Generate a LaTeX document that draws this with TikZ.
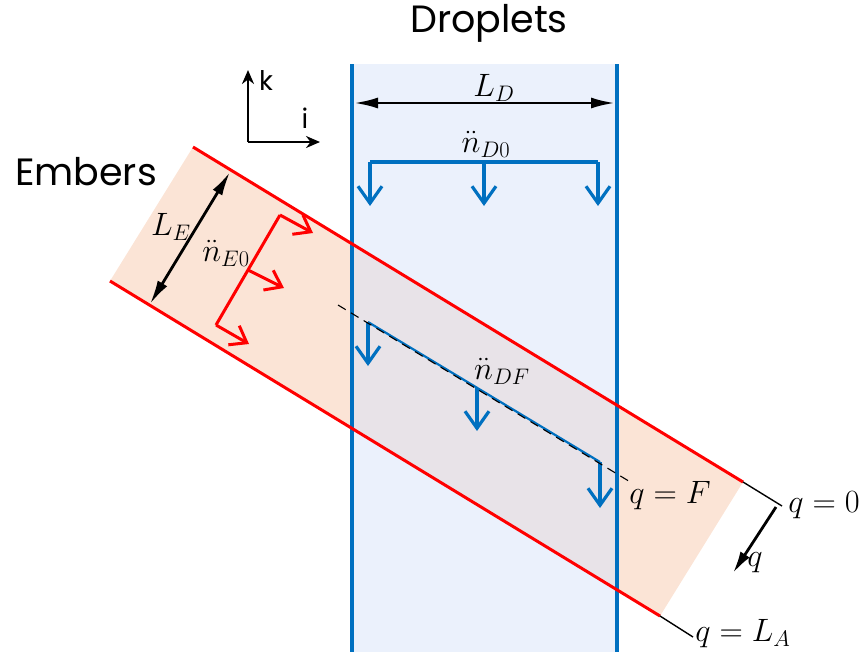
\documentclass[tikz,border=0pt]{standalone}
\usepackage{fontspec}
\setmainfont{Poppins}
\usetikzlibrary{arrows.meta}
\definecolor{redc}{HTML}{FF0000}
\definecolor{bluec}{HTML}{0070C0}
\definecolor{peach}{HTML}{FBE4D6}
\definecolor{lblue}{HTML}{EBF1FC}
\definecolor{overlapc}{HTML}{E8E3E8}
\begin{document}
\begin{tikzpicture}[x=1pt,y=-1pt,
  bigtxt/.style={font=\fontsize{38}{44}\selectfont, inner sep=0pt},
  axtxt/.style={font=\fontsize{27}{32}\selectfont, inner sep=0pt},
  mtxt/.style={font=\fontsize{24}{28}\selectfont, inner sep=0pt, scale=1.3},
  blueline/.style={draw=bluec, line width=3.2pt},
  redline/.style={draw=redc, line width=3pt},
  vbarbblue/.style={blueline, -{Straight Barb[length=17pt,width=24pt]}},
  vbarbred/.style={redline, -{Straight Barb[length=15pt,width=22pt]}},
  dimarrow/.style={draw=black, line width=2.8pt, {Latex[length=24pt,width=11pt]}-{Latex[length=24pt,width=11pt]}},
  axarrow/.style={draw=black, line width=2.8pt, -{Stealth[length=14pt,width=12pt]}},
  thinline/.style={draw=black, line width=1.4pt}
]
\useasboundingbox (0,0) rectangle (861,654);
% geometry
\coordinate (DTL) at (352,64);
\coordinate (DBL) at (352,652);
\coordinate (DTR) at (617,64);
\coordinate (DBR) at (617,652);
\coordinate (EA) at (193,147);
\coordinate (EB) at (743,482);
\coordinate (EC) at (660,616);
\coordinate (ED) at (110,281);
% fills
\fill[lblue] (DTL) rectangle (DBR);
\fill[peach] (EA) -- (EB) -- (EC) -- (ED) -- cycle;
\begin{scope}
  \clip (EA) -- (EB) -- (EC) -- (ED) -- cycle;
  \fill[overlapc] (DTL) rectangle (DBR);
\end{scope}
% droplet band edges
\draw[blueline] (DTL) -- (DBL);
\draw[blueline] (DTR) -- (DBR);
% ember band edges
\draw[redline] (EA) -- (EB);
\draw[redline] (ED) -- (EC);
\coordinate (Q0) at (782,506);
\coordinate (QLA) at (693,637);
\draw[thinline] (EB) -- (Q0);
\draw[thinline] (EC) -- (QLA);
% titles
\node[bigtxt] (tdrop) at (489,23) {Droplets};
\node[bigtxt] (tember) at (86,172) {Embers};
% axes
\coordinate (O) at (248,142);
\coordinate (Kt) at (248,70);
\coordinate (It) at (320,142);
\draw[axarrow] (O) -- (Kt);
\draw[axarrow] (O) -- (It);
\node[axtxt] (lk) at (266,81) {k};
\node[axtxt] (li) at (305,118) {i};
% L_D
\coordinate (LDl) at (354,103);
\coordinate (LDr) at (615,103);
\draw[dimarrow] (LDl) -- (LDr);
\node[mtxt] (lLD) at (494,88) {$L_D$};
% n_D0 bracket
\coordinate (D0a) at (370,162);
\coordinate (D0b) at (484,162);
\coordinate (D0c) at (598,162);
\coordinate (D0at) at (370,206);
\coordinate (D0bt) at (484,206);
\coordinate (D0ct) at (598,206);
\draw[blueline] (D0a) -- (D0c);
\draw[vbarbblue] (D0a) -- (D0at);
\draw[vbarbblue] (D0b) -- (D0bt);
\draw[vbarbblue] (D0c) -- (D0ct);
\node[mtxt] (lnD0) at (486,144) {$\ddot{n}_{D0}$};
% n_DF line
\coordinate (F1) at (368,322);
\coordinate (F2) at (477,388);
\coordinate (F3) at (600,462);
\coordinate (F1t) at (368,366);
\coordinate (F2t) at (477,431);
\coordinate (F3t) at (600,508);
\coordinate (Fs) at (338,305);
\coordinate (Fe) at (632,483);
\draw[draw=bluec, line width=2.2pt] (F1) -- (F3);
\draw[vbarbblue] (F1) -- (F1t);
\draw[vbarbblue] (F2) -- (F2t);
\draw[vbarbblue] (F3) -- (F3t);
\draw[draw=black, line width=1.1pt, dash pattern=on 9pt off 6pt] (Fs) -- (Fe);
\node[mtxt] (lnDF) at (502,371) {$\ddot{n}_{DF}$};
% L_E
\coordinate (LEt) at (230,172);
\coordinate (LEb) at (150,304);
\draw[dimarrow] (LEt) -- (LEb);
\node[mtxt] (lLE) at (171,227) {$L_E$};
% n_E0 bracket
\coordinate (E1) at (280,215);
\coordinate (E2) at (248,270);
\coordinate (E3) at (216,325);
\coordinate (E1t) at (313,233);
\coordinate (E2t) at (284,288);
\coordinate (E3t) at (249,344);
\draw[redline] (E1) -- (E3);
\draw[vbarbred] (E1) -- (E1t);
\draw[vbarbred] (E2) -- (E2t);
\draw[vbarbred] (E3) -- (E3t);
\node[mtxt] (lnE0) at (226,253) {$\ddot{n}_{E0}$};
% q labels
\node[mtxt] (lqF) at (670,496) {$q=F$};
\node[mtxt] (lq0) at (824,505) {$q=0$};
\node[mtxt] (lqLA) at (743,634) {$q=L_A$};
\coordinate (QAs) at (776,507);
\coordinate (QAe) at (733,573);
\draw[draw=black, line width=2.8pt, -{Latex[length=22pt,width=11pt]}] (QAs) -- (QAe);
\node[mtxt] (lq) at (755,563) {$q$};
\end{tikzpicture}
\end{document}
